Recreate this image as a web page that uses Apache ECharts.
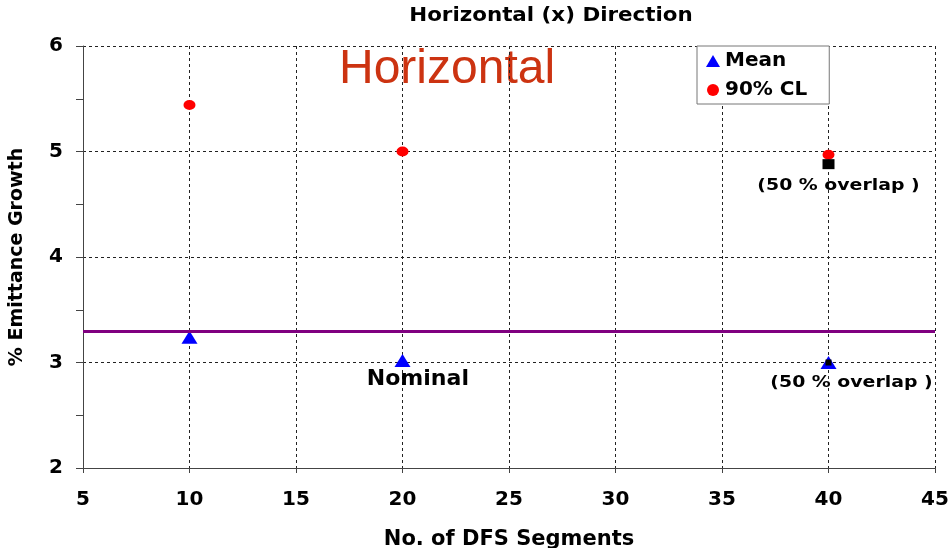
<!DOCTYPE html>
<html><head><meta charset="utf-8">
<script src="https://cdn.jsdelivr.net/npm/echarts@6/dist/echarts.min.js"></script>
<style>html,body{margin:0;padding:0;background:#fff}#c{width:950px;height:548px}</style>
</head><body><div id="c"></div>
<script>
// ---- data ----
var segments = [10, 20, 40];
var meanValues = [3.24, 3.02, 3.0];
var cl90Values = [5.44, 5.0, 4.97];
var overlapX = [40, 40];
var overlapY = [4.88, 3.0];
var nominalLevel = 3.3;
var noteX = [40.47, 41.08, 20.72];
var noteY = [4.67, 2.81, 2.84];
var noteText = ['(50 % overlap )', '(50 % overlap )', 'Nominal'];
var xTicks = {min: 5, max: 45, interval: 5};
var yTicks = {min: 2, max: 6, interval: 1};

// ---- styles ----
var FB = '"DejaVu Sans", "Liberation Sans", sans-serif';
var noteStyle = [
  {size: 16, sx: 1.18},
  {size: 16, sx: 1.18},
  {size: 21, sx: 1.05}
];
var overlapSize = [[12, 10], [6, 6]];

var chart = echarts.init(document.getElementById('c'));
chart.setOption({
  animation: false,
  backgroundColor: '#fff',
  graphic: [
    {
      type: 'text', x: 551, y: 6, scaleX: 1.07,
      style: {text: 'Horizontal (x) Direction', font: 'bold 20px ' + FB, fill: '#000',
              align: 'center', verticalAlign: 'top'}
    },
    {
      type: 'text', left: 339, top: 46,
      style: {text: 'Horizontal', font: '48px "Liberation Sans", Arial, sans-serif', fill: '#cc3311'}
    }
  ],
  legend: {
    left: 697, top: 46, orient: 'vertical', itemGap: 9, padding: [5, 22, 4, 9],
    backgroundColor: '#fff', borderColor: '#777', borderWidth: 1,
    itemWidth: 14, itemHeight: 12,
    textStyle: {fontFamily: FB, fontWeight: 'bold', fontSize: 20, color: '#000'},
    data: [{name: 'Mean', icon: 'triangle'}, {name: '90% CL', icon: 'circle'}]
  },
  grid: {left: 83, right: 15, top: 46, bottom: 80, containLabel: false, outerBoundsMode: 'none'},
  xAxis: {
    type: 'value', min: xTicks.min, max: xTicks.max, interval: xTicks.interval,
    name: 'No. of DFS Segments', nameLocation: 'middle', nameGap: 61,
    nameTextStyle: {fontFamily: FB, fontWeight: 'bold', fontSize: 21, color: '#000'},
    axisLine: {lineStyle: {color: '#444', width: 1}},
    axisTick: {show: true, inside: false, length: 5, lineStyle: {color: '#444'}},
    axisLabel: {fontFamily: FB, fontWeight: 'bold', fontSize: 20, color: '#000', margin: 22},
    splitLine: {show: true, lineStyle: {color: '#222', type: [3, 3], width: 1}}
  },
  yAxis: {
    type: 'value', min: yTicks.min, max: yTicks.max, interval: yTicks.interval,
    name: '% Emittance Growth', nameLocation: 'middle', nameGap: 56,
    nameTextStyle: {fontFamily: FB, fontWeight: 'bold', fontSize: 19, color: '#000'},
    axisLine: {show: true, lineStyle: {color: '#444', width: 1}},
    axisTick: {show: true, inside: false, length: 7, lineStyle: {color: '#444'}},
    minorTick: {show: true, splitNumber: 2, length: 7, lineStyle: {color: '#444'}},
    axisLabel: {fontFamily: FB, fontWeight: 'bold', fontSize: 20, color: '#000', margin: 20},
    splitLine: {show: true, lineStyle: {color: '#222', type: [3, 3], width: 1}}
  },
  series: [
    {
      name: 'Mean', type: 'scatter', symbol: 'triangle', symbolSize: [16, 13],
      itemStyle: {color: '#0000ff', opacity: 1}, z: 3,
      data: segments.map(function (s, i) { return [s, meanValues[i]]; }),
      markLine: {
        silent: true, symbol: 'none', label: {show: false},
        lineStyle: {color: '#800080', width: 3, type: 'solid', opacity: 1},
        data: [{yAxis: nominalLevel}]
      }
    },
    {
      name: '90% CL', type: 'scatter', symbol: 'circle', symbolSize: [12, 10],
      itemStyle: {color: '#ff0000', opacity: 1}, z: 3,
      data: segments.map(function (s, i) { return [s, cl90Values[i]]; })
    },
    {
      name: 'overlap', type: 'scatter', symbol: 'rect',
      itemStyle: {color: '#000', opacity: 1}, z: 4,
      data: overlapX.map(function (x, i) {
        return {value: [x, overlapY[i]], symbolSize: overlapSize[i]};
      })
    },
    {
      name: 'notes', type: 'custom', coordinateSystem: 'cartesian2d', silent: true, z: 5, clip: false,
      data: noteX.map(function (x, i) { return [x, noteY[i]]; }),
      renderItem: function (params, api) {
        var p = api.coord([api.value(0), api.value(1)]);
        var st = noteStyle[params.dataIndex];
        return {
          type: 'text', x: p[0], y: p[1], scaleX: st.sx,
          style: {text: noteText[params.dataIndex], font: 'bold ' + st.size + 'px ' + FB,
                  fill: '#000', align: 'center', verticalAlign: 'middle'}
        };
      }
    }
  ]
});
</script></body></html>
